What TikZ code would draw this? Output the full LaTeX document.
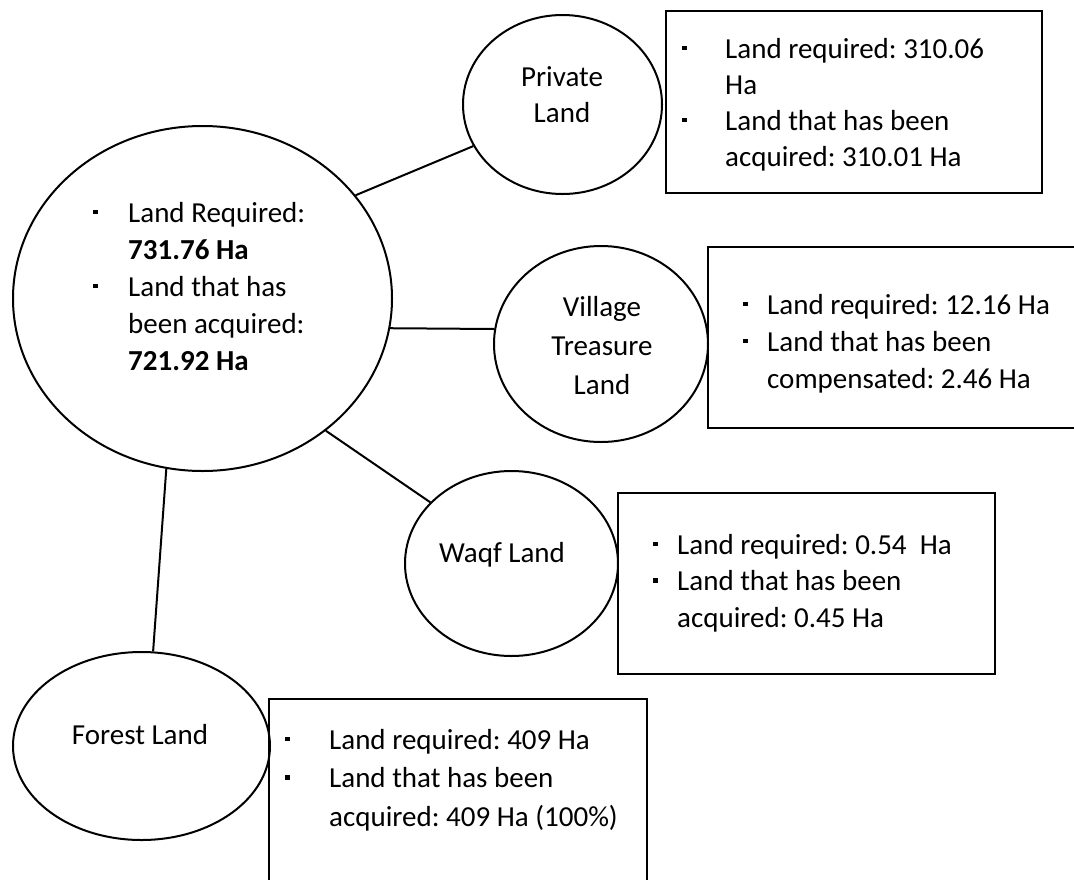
\documentclass[tikz,border=0pt]{standalone}
\usepackage{fontspec}
\setmainfont{Carlito}
\usetikzlibrary{shapes.geometric}
\frenchspacing

% small square bullet, hung to the left of the line by #1
\newcommand{\sqbullet}[1]{\llap{\raisebox{8pt}{\rule{4.5pt}{4.5pt}}\hspace*{#1}}}

\tikzset{
  oval/.style={draw, ellipse, line width=2pt, inner sep=0pt},
  infobox/.style={draw, rectangle, line width=2.2pt, inner sep=0pt},
  link/.style={line width=2pt},
  txt/.style={inner sep=0pt, font=\fontsize{29}{#1}\selectfont},
  txt/.default=37pt,
}

\begin{document}
\begin{tikzpicture}[x=1pt, y=-1pt]
  \useasboundingbox (0,0) rectangle (1074,879);
  \fill[white] (0,0) rectangle (1074,879);

  % information boxes
  \node[infobox, minimum width=376pt, minimum height=182pt] (box1) at (854,102) {};
  \node[infobox, minimum width=372pt, minimum height=181pt] (box2) at (894,337.5) {};
  \node[infobox, minimum width=377pt, minimum height=181pt] (box3) at (806.5,583.5) {};
  \node[infobox, minimum width=378pt, minimum height=190pt] (box4) at (458,794) {};

  % land categories
  \node[oval, minimum width=379pt, minimum height=345pt] (main) at (202.5,298.5) {};
  \node[oval, minimum width=199pt, minimum height=179pt] (private) at (562.5,104.5) {};
  \node[oval, minimum width=214pt, minimum height=196pt] (village) at (601,344) {};
  \node[oval, minimum width=213pt, minimum height=185pt] (waqf) at (511.5,563.5) {};
  \node[oval, minimum width=257pt, minimum height=188pt] (forest) at (141.5,746) {};

  % connectors
  \draw[link] (main.34.2) -- (private.205.4);
  \draw[link] (main.-9.6) -- (village.172.5);
  \draw[link] (main.-47.3) -- (waqf.143.9);
  \draw[link] (main.-102.2) -- (forest.83.7);

  % category names
  \node[txt=36pt, anchor=base] (privatename) at (562,86)
    {\begin{tabular}[t]{@{}c@{}}Private\\Land\end{tabular}};
  \node[txt=39pt, anchor=base] (villagename) at (602,316)
    {\begin{tabular}[t]{@{}c@{}}Village\\Treasure\\Land\end{tabular}};
  \node[txt, anchor=base] (waqfname) at (502,562) {Waqf Land};
  \node[txt, anchor=base] (forestname) at (140,744) {Forest Land};

  % figures
  \node[txt=37pt, anchor=base west] (maintext) at (128,222)
    {\begin{tabular}[t]{@{}l@{}}
      \sqbullet{30.5pt}Land Required:\\
      \textbf{731.76 Ha}\\
      \sqbullet{30.5pt}Land that has\\
      been acquired:\\
      \textbf{721.92 Ha}
    \end{tabular}};
  \node[txt=36pt, anchor=base west] (box1text) at (725,58)
    {\begin{tabular}[t]{@{}l@{}}
      \sqbullet{38.5pt}Land required: 310.06\\
      Ha\\
      \sqbullet{38.5pt}Land that has been\\
      acquired: 310.01 Ha
    \end{tabular}};
  \node[txt=37pt, anchor=base west] (box2text) at (767,314)
    {\begin{tabular}[t]{@{}l@{}}
      \sqbullet{19.5pt}Land required: 12.16 Ha\\
      \sqbullet{19.5pt}Land that has been\\
      compensated: 2.46 Ha
    \end{tabular}};
  \node[txt=36.5pt, anchor=base west] (box3text) at (677,554)
    {\begin{tabular}[t]{@{}l@{}}
      \sqbullet{19.5pt}Land required: 0.54~ Ha\\
      \sqbullet{19.5pt}Land that has been\\
      acquired: 0.45 Ha
    \end{tabular}};
  \node[txt=38.5pt, anchor=base west] (box4text) at (329,749)
    {\begin{tabular}[t]{@{}l@{}}
      \sqbullet{39.5pt}Land required: 409 Ha\\
      \sqbullet{39.5pt}Land that has been\\
      acquired: 409 Ha (100\%)
    \end{tabular}};
\end{tikzpicture}
\end{document}
